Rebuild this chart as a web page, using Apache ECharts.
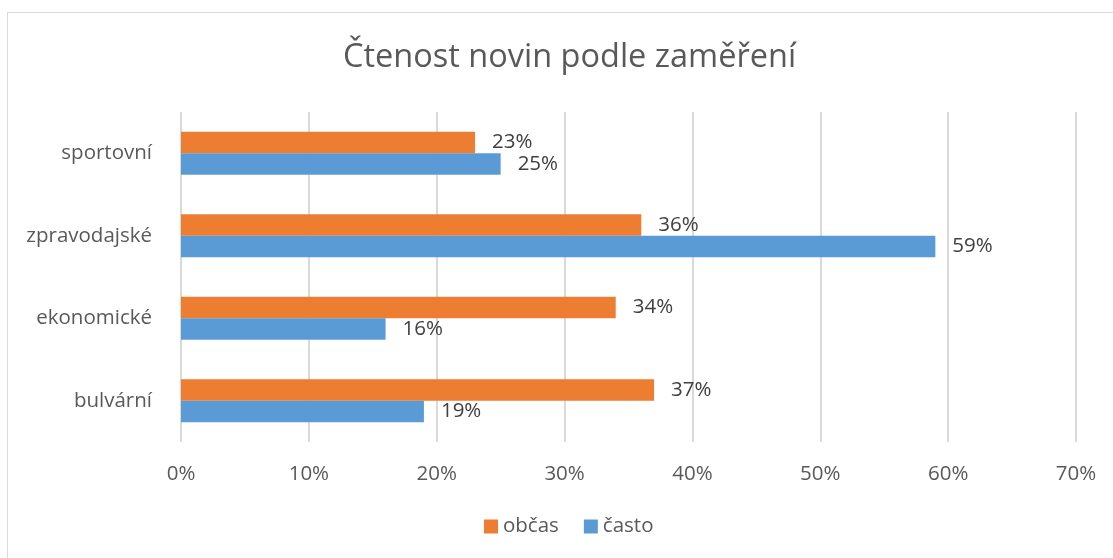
<!DOCTYPE html>
<html>
<head>
<meta charset="utf-8">
<script src="https://cdn.jsdelivr.net/npm/echarts@6/dist/echarts.min.js"></script>
<style>
  html, body { margin: 0; padding: 0; background: #fff; }
  #main { width: 1113px; height: 558px; }
</style>
</head>
<body>
<div id="main"></div>
<script>
// data, top to bottom as in the picture
const categories = ['sportovní', 'zpravodajské', 'ekonomické', 'bulvární']
const obcas = [23, 36, 34, 37]
const casto = [25, 59, 16, 19]
const xTicks = [0, 10, 20, 30, 40, 50, 60, 70]

const font = '"Open Sans", "Noto Sans", sans-serif'
const grey = '#595959'
const size = 20.5

const chart = echarts.init(document.getElementById('main'))

const barLabel = {
  show: true,
  position: 'right',
  distance: 17,
  formatter: '{c}%',
  fontFamily: font,
  fontSize: size,
  color: '#404040'
}

chart.setOption({
  animation: false,
  title: {
    text: 'Čtenost novin podle zaměření',
    left: 338,
    top: 36,
    textStyle: { fontFamily: font, fontSize: 32.5, fontWeight: 'normal', color: grey }
  },
  legend: {
    data: ['občas', 'často'],
    bottom: 16,
    left: 479,
    itemWidth: 14,
    itemHeight: 14,
    itemGap: 25,
    icon: 'rect',
    textStyle: { fontFamily: font, fontSize: size, color: grey }
  },
  graphic: [
    { type: 'line', shape: { x1: 7, y1: 12.5, x2: 1113, y2: 12.5 }, style: { stroke: '#d9d9d9', lineWidth: 1 } },
    { type: 'line', shape: { x1: 7.5, y1: 12, x2: 7.5, y2: 558 }, style: { stroke: '#d9d9d9', lineWidth: 1 } }
  ],
  grid: { left: 181, right: 37, top: 112, bottom: 116, containLabel: false },
  xAxis: {
    type: 'value',
    min: xTicks[0],
    max: xTicks[xTicks.length - 1],
    interval: 10,
    axisLine: { show: false },
    axisTick: { show: false },
    splitLine: { lineStyle: { color: '#d9d9d9', width: 2 } },
    axisLabel: { formatter: '{value}%', margin: 22, fontFamily: font, fontSize: size, color: grey }
  },
  yAxis: {
    type: 'category',
    data: categories,
    inverse: true,
    axisLine: { show: false },
    axisTick: { show: false },
    axisLabel: { margin: 29, fontFamily: font, fontSize: size, color: grey }
  },
  series: [
    {
      name: 'občas',
      type: 'bar',
      data: obcas,
      barGap: '0%',
      barCategoryGap: '48%',
      itemStyle: { color: '#ED7D31' },
      label: barLabel
    },
    {
      name: 'často',
      type: 'bar',
      data: casto,
      itemStyle: { color: '#5B9BD5' },
      label: barLabel
    }
  ]
})
</script>
</body>
</html>
